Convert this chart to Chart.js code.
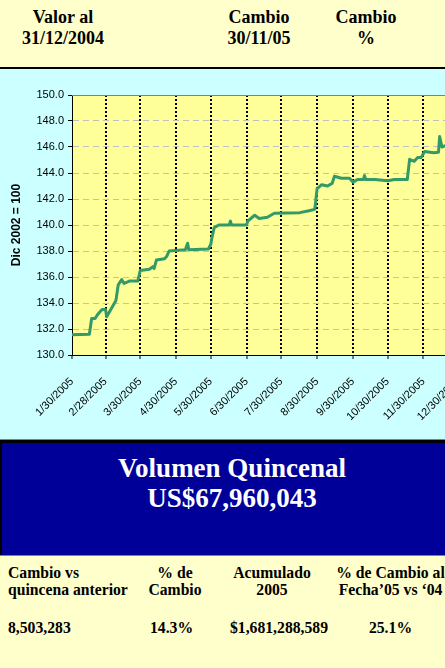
<!DOCTYPE html>
<html>
<head>
<meta charset="utf-8">
<script src="https://cdn.jsdelivr.net/npm/chart.js@4/dist/chart.umd.min.js"></script>
<style>
html, body { margin: 0; padding: 0; }
body {
  width: 445px; height: 668px; overflow: hidden; position: relative;
  background: #FFFFCC;
  font-family: "Liberation Serif", "Times New Roman", serif; font-weight: bold; color: #000;
}
.abs { position: absolute; white-space: nowrap; }
.c { text-align: center; }
.top { font-size: 18px; line-height: 21px; top: 6.7px; width: 100px; }
.bot { font-size: 15.7px; line-height: 17px; }
#graf { left: 0; top: 69px; width: 445px; height: 370px; background: #CCFFFF; overflow: hidden; }
#azul { left: 0; top: 443px; width: 443px; height: 112px; background: #000099; border-left: 2px solid #000; }
#titulo { left: 32px; top: 452.9px; width: 400px; font-size: 27px; line-height: 30px; color: #fff; }
</style>
</head>
<body>
<div class="abs top c" style="left:13px">Valor al<br>31/12/2004</div>
<div class="abs top c" style="left:209px">Cambio<br>30/11/05</div>
<div class="abs top c" style="left:316px">Cambio<br>%</div>
<div class="abs" style="left:0;top:67px;width:445px;height:2px;background:#000"></div>

<div id="graf" class="abs"><canvas id="chart" width="520" height="370"></canvas></div>

<div class="abs" style="left:0;top:439px;width:445px;height:1px;background:#808080"></div>
<div class="abs" style="left:0;top:440px;width:445px;height:3px;background:#000"></div>
<div id="azul" class="abs"></div>
<div id="titulo" class="abs c">Volumen Quincenal<br>US$67,960,043</div>
<div class="abs" style="left:0;top:555px;width:445px;height:1px;background:#808080"></div>

<div class="abs bot" style="left:8px;top:564.2px">Cambio vs<br>quincena anterior</div>
<div class="abs bot c" style="left:125px;top:564.2px;width:100px">% de<br>Cambio</div>
<div class="abs bot c" style="left:222px;top:564.2px;width:100px">Acumulado<br>2005</div>
<div class="abs bot c" style="left:330px;top:564.2px;width:121px">% de Cambio al<br>Fecha’05 vs ‘04</div>

<div class="abs bot" style="left:8px;top:619.2px">8,503,283</div>
<div class="abs bot" style="left:150px;top:619.2px">14.3%</div>
<div class="abs bot c" style="left:229px;top:619.2px;width:100px">$1,681,288,589</div>
<div class="abs bot c" style="left:340px;top:619.2px;width:101px">25.1%</div>

<script>
// indice diario (Dic 2002 = 100)
const fechas = [
  '1/30/2005', '2/14/2005', '2/16/2005', '2/19/2005', '2/21/2005', '2/25/2005', '2/28/2005',
  '3/1/2005', '3/9/2005', '3/11/2005', '3/14/2005', '3/16/2005', '3/21/2005', '3/28/2005',
  '3/30/2005', '4/7/2005', '4/10/2005', '4/11/2005', '4/13/2005', '4/20/2005', '4/22/2005',
  '4/24/2005', '5/8/2005', '5/10/2005', '5/11/2005', '5/28/2005', '5/30/2005', '5/31/2005',
  '6/2/2005', '6/6/2005', '6/15/2005', '6/16/2005', '6/17/2005', '6/30/2005', '7/1/2005',
  '7/7/2005', '7/11/2005', '7/18/2005', '7/24/2005', '8/15/2005', '8/23/2005', '8/28/2005',
  '8/30/2005', '9/3/2005', '9/8/2005', '9/12/2005', '9/14/2005', '9/20/2005', '9/27/2005',
  '9/30/2005', '10/4/2005', '10/9/2005', '10/10/2005', '10/11/2005', '10/19/2005', '10/30/2005',
  '11/5/2005', '11/16/2005', '11/18/2005', '11/22/2005', '11/25/2005', '11/28/2005', '12/1/2005',
  '12/9/2005', '12/13/2005', '12/14/2005', '12/16/2005', '12/19/2005'
];
const indice = [
  131.55, 131.6, 132.8, 132.8, 133.1, 133.5, 133.5,
  132.95, 134.2, 135.4, 135.8, 135.5, 135.7, 135.7,
  136.5, 136.6, 136.8, 136.65, 137.3, 137.4, 137.6,
  138.0, 138.1, 138.6, 138.1, 138.15, 138.5, 139.0,
  139.8, 140.0, 140.0, 140.3, 140.0, 140.0, 140.3,
  140.75, 140.5, 140.6, 140.9, 140.95, 141.1, 141.2,
  142.8, 143.1, 143.0, 143.2, 143.75, 143.6, 143.6,
  143.3, 143.5, 143.5, 143.8, 143.5, 143.5, 143.4,
  143.5, 143.5, 145.05, 144.9, 145.2, 145.2, 145.65,
  145.55, 145.6, 146.8, 146.0, 146.1
];
const etiquetasX = [
  '1/30/2005', '2/28/2005', '3/30/2005', '4/30/2005', '5/30/2005', '6/30/2005',
  '7/30/2005', '8/30/2005', '9/30/2005', '10/30/2005', '11/30/2005', '12/30/2005'
];

function diaDelAnio(s) {
  const [m, d, y] = s.split('/').map(Number);
  return (Date.UTC(y, m - 1, d) - Date.UTC(y, 0, 0)) / 86400000;
}
const diasTick = etiquetasX.map(diaDelAnio);

const fondoPlot = {
  id: 'fondoPlot',
  beforeDraw(chart) {
    const { ctx, chartArea: a } = chart;
    ctx.save();
    ctx.fillStyle = '#FFFF99';
    ctx.fillRect(a.left, a.top, a.right - a.left, a.bottom - a.top);
    ctx.restore();
  },
  afterDraw(chart) {
    const { ctx, chartArea: a } = chart;
    ctx.save();
    ctx.strokeStyle = '#808080';
    ctx.lineWidth = 1;
    ctx.beginPath();
    ctx.moveTo(a.left, a.top + 0.5);
    ctx.lineTo(a.right, a.top + 0.5);
    ctx.stroke();
    ctx.restore();
  }
};

Chart.defaults.font.family = '"Liberation Sans", Arial, sans-serif';
Chart.defaults.font.size = 11;
Chart.defaults.color = '#000';

new Chart(document.getElementById('chart'), {
  type: 'line',
  data: {
    datasets: [{
      data: fechas.map((f, i) => ({ x: diaDelAnio(f), y: indice[i] })),
      borderColor: '#339966',
      borderWidth: 3,
      borderJoinStyle: 'round',
      borderCapStyle: 'round',
      pointRadius: 0,
      tension: 0,
      fill: false
    }]
  },
  options: {
    responsive: false,
    animation: false,
    layout: { padding: { top: 26, right: 26, left: 0, bottom: 0 } },
    plugins: { legend: { display: false }, tooltip: { enabled: false } },
    scales: {
      x: {
        type: 'linear',
        min: 30,
        max: 395,
        afterBuildTicks: s => { s.ticks = diasTick.map(v => ({ value: v })); },
        afterFit: s => { s.height = 84; s.paddingLeft = 0; s.paddingRight = 0; },
        ticks: {
          autoSkip: false,
          minRotation: 45,
          maxRotation: 45,
          padding: 16,
          callback: (v, i) => etiquetasX[i]
        },
        grid: {
          color: c => c.index === 0 ? 'rgba(0,0,0,0)' : '#000',
          lineWidth: 2,
          tickLength: 4,
          tickColor: '#000',
          tickWidth: 1,
          tickBorderDash: []
        },
        border: { color: '#000', width: 1, dash: [2, 2] }
      },
      y: {
        min: 130,
        max: 150,
        afterFit: s => { s.width = 72; s.paddingTop = 0; s.paddingBottom = 0; },
        ticks: { stepSize: 2, padding: 4, callback: v => v.toFixed(1) },
        grid: {
          color: c => (c.tick && (c.tick.value === 130 || c.tick.value === 150)) ? 'rgba(0,0,0,0)' : '#C0C0C0',
          lineWidth: 1,
          tickLength: 4,
          tickColor: '#000',
          tickWidth: 1,
          tickBorderDash: []
        },
        border: { color: '#000', width: 1, dash: [6, 4] },
        title: {
          display: true,
          text: 'Dic 2002 = 100',
          font: { size: 12, weight: 'bold' },
          padding: { top: 9, bottom: 0 }
        }
      }
    }
  },
  plugins: [fondoPlot]
});
</script>
</body>
</html>
